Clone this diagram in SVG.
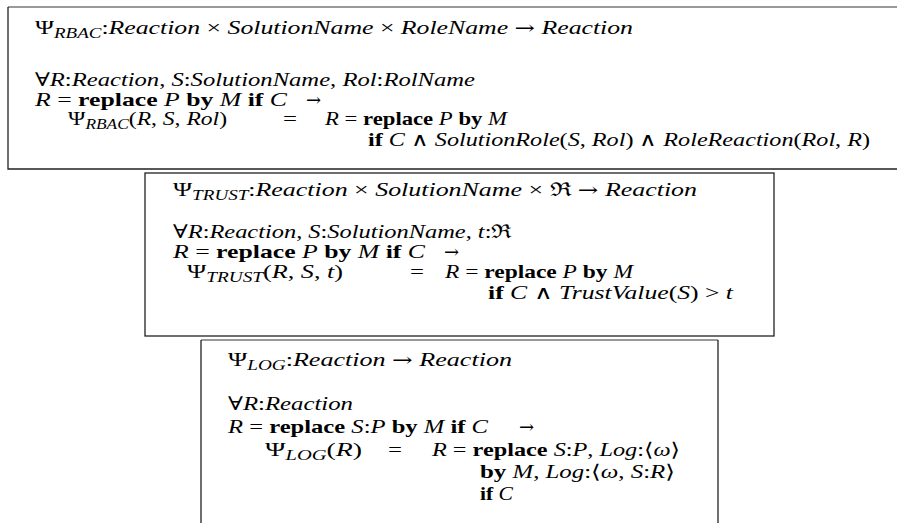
<svg xmlns="http://www.w3.org/2000/svg" width="897" height="523" viewBox="0 0 897 523">
<style>
.t{font-family:"Liberation Serif","DejaVu Serif",serif;font-size:19px;fill:#000}
.i{font-style:italic}
.b{font-weight:bold}
.s{font-size:14px;font-style:italic}
.a{font-family:"DejaVu Serif",serif;font-size:18px}
.w{font-family:"DejaVu Sans",sans-serif;font-weight:200}
.frame{fill:none;stroke:#222;stroke-width:1.3}
.frame2{fill:none;stroke:#777;stroke-width:1.6}
</style>
<rect width="897" height="523" fill="#fff"/>
<g id="rbac">
<path class="frame2" d="M8,7 H897"/>
<path class="frame" d="M8,7 V169 H897"/>
<text class="t" x="35" y="34" textLength="598" lengthAdjust="spacingAndGlyphs">Ψ<tspan class="s" dy="4">RBAC</tspan><tspan dy="-4">:</tspan><tspan class="i">Reaction</tspan> × <tspan class="i">SolutionName</tspan> × <tspan class="i">RoleName</tspan> <tspan class="a">→</tspan> <tspan class="i">Reaction</tspan></text>
<text class="t" x="35" y="86" textLength="440" lengthAdjust="spacingAndGlyphs">∀<tspan class="i">R</tspan>:<tspan class="i">Reaction</tspan>, <tspan class="i">S</tspan>:<tspan class="i">SolutionName</tspan>, <tspan class="i">Rol</tspan>:<tspan class="i">RolName</tspan></text>
<text class="t" x="35" y="106" textLength="252" lengthAdjust="spacingAndGlyphs"><tspan class="i">R</tspan> =  <tspan class="b">replace</tspan> <tspan class="i">P</tspan> <tspan class="b">by</tspan> <tspan class="i">M</tspan> <tspan class="b">if</tspan> <tspan class="i">C</tspan></text>
<text class="t a" x="306" y="106">→</text>
<text class="t" x="68" y="125" textLength="159" lengthAdjust="spacingAndGlyphs">Ψ<tspan class="s" dy="4">RBAC</tspan><tspan dy="-4">(</tspan><tspan class="i">R</tspan>, <tspan class="i">S</tspan>, <tspan class="i">Rol</tspan>)</text>
<text class="t" x="283" y="125" textLength="14" lengthAdjust="spacingAndGlyphs">=</text>
<text class="t" x="325" y="125" textLength="182" lengthAdjust="spacingAndGlyphs"><tspan class="i">R</tspan> = <tspan class="b">replace</tspan> <tspan class="i">P</tspan> <tspan class="b">by</tspan> <tspan class="i">M</tspan></text>
<text class="t" x="368" y="146" textLength="502" lengthAdjust="spacingAndGlyphs"><tspan class="b">if</tspan> <tspan class="i">C</tspan> <tspan class="w">∧</tspan> <tspan class="i">SolutionRole</tspan>(<tspan class="i">S</tspan>, <tspan class="i">Rol</tspan>) <tspan class="w">∧</tspan> <tspan class="i">RoleReaction</tspan>(<tspan class="i">Rol</tspan>, <tspan class="i">R</tspan>)</text>
</g>
<g id="trust">
<rect class="frame" x="145" y="173" width="629" height="163"/>
<text class="t" x="173" y="196" textLength="524" lengthAdjust="spacingAndGlyphs">Ψ<tspan class="s" dy="4">TRUST</tspan><tspan dy="-4">:</tspan><tspan class="i">Reaction</tspan> × <tspan class="i">SolutionName</tspan> × ℜ <tspan class="a">→</tspan> <tspan class="i">Reaction</tspan></text>
<text class="t" x="173" y="238" textLength="339" lengthAdjust="spacingAndGlyphs">∀<tspan class="i">R</tspan>:<tspan class="i">Reaction</tspan>, <tspan class="i">S</tspan>:<tspan class="i">SolutionName</tspan>, <tspan class="i">t</tspan>:ℜ</text>
<text class="t" x="173" y="258" textLength="252" lengthAdjust="spacingAndGlyphs"><tspan class="i">R</tspan> =  <tspan class="b">replace</tspan> <tspan class="i">P</tspan> <tspan class="b">by</tspan> <tspan class="i">M</tspan> <tspan class="b">if</tspan> <tspan class="i">C</tspan></text>
<text class="t a" x="444" y="258">→</text>
<text class="t" x="187" y="278" textLength="156" lengthAdjust="spacingAndGlyphs">Ψ<tspan class="s" dy="4">TRUST</tspan><tspan dy="-4">(</tspan><tspan class="i">R</tspan>, <tspan class="i">S</tspan>, <tspan class="i">t</tspan>)</text>
<text class="t" x="410" y="278" textLength="14" lengthAdjust="spacingAndGlyphs">=</text>
<text class="t" x="445" y="278" textLength="188" lengthAdjust="spacingAndGlyphs"><tspan class="i">R</tspan> = <tspan class="b">replace</tspan> <tspan class="i">P</tspan> <tspan class="b">by</tspan> <tspan class="i">M</tspan></text>
<text class="t" x="488" y="299" textLength="245" lengthAdjust="spacingAndGlyphs"><tspan class="b">if</tspan> <tspan class="i">C</tspan> <tspan class="w">∧</tspan> <tspan class="i">TrustValue</tspan>(<tspan class="i">S</tspan>) &gt; <tspan class="i">t</tspan></text>
</g>
<g id="log">
<path class="frame2" d="M201,340 H718"/>
<path class="frame" d="M201,340 V530 M718,340 V530"/>
<text class="t" x="228" y="366" textLength="284" lengthAdjust="spacingAndGlyphs">Ψ<tspan class="s" dy="4">LOG</tspan><tspan dy="-4">:</tspan><tspan class="i">Reaction</tspan> <tspan class="a">→</tspan> <tspan class="i">Reaction</tspan></text>
<text class="t" x="228" y="410" textLength="125" lengthAdjust="spacingAndGlyphs">∀<tspan class="i">R</tspan>:<tspan class="i">Reaction</tspan></text>
<text class="t" x="228" y="433" textLength="260" lengthAdjust="spacingAndGlyphs"><tspan class="i">R</tspan> =  <tspan class="b">replace</tspan> <tspan class="i">S</tspan>:<tspan class="i">P</tspan> <tspan class="b">by</tspan> <tspan class="i">M</tspan> <tspan class="b">if</tspan> <tspan class="i">C</tspan></text>
<text class="t a" x="519" y="433">→</text>
<text class="t" x="265" y="456" textLength="97" lengthAdjust="spacingAndGlyphs">Ψ<tspan class="s" dy="4">LOG</tspan><tspan dy="-4">(</tspan><tspan class="i">R</tspan>)</text>
<text class="t" x="388" y="456" textLength="14" lengthAdjust="spacingAndGlyphs">=</text>
<text class="t" x="432" y="456" textLength="248" lengthAdjust="spacingAndGlyphs"><tspan class="i">R</tspan> = <tspan class="b">replace</tspan> <tspan class="i">S</tspan>:<tspan class="i">P</tspan>,  <tspan class="i">Log</tspan>:⟨<tspan class="i">ω</tspan>⟩</text>
<text class="t" x="480" y="478" textLength="195" lengthAdjust="spacingAndGlyphs"><tspan class="b">by</tspan> <tspan class="i">M</tspan>,  <tspan class="i">Log</tspan>:⟨<tspan class="i">ω</tspan>,  <tspan class="i">S</tspan>:<tspan class="i">R</tspan>⟩</text>
<text class="t" x="480" y="500" textLength="33" lengthAdjust="spacingAndGlyphs"><tspan class="b">if</tspan> <tspan class="i">C</tspan></text>
</g>
</svg>
